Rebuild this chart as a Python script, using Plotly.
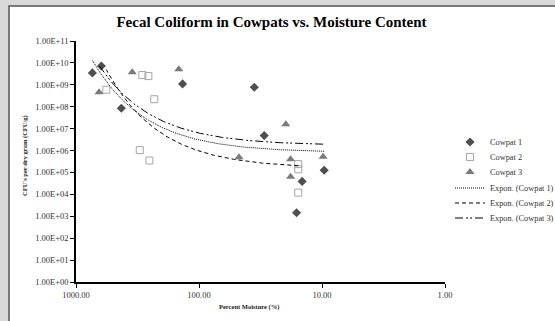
import numpy as np
import plotly.graph_objects as go

# ---- data ----
cow1_x = [736, 622, 428, 136, 35.5, 29.5, 9.6, 14.5, 16.1]
cow1_y = [3.5e9, 7.2e9, 8.5e7, 1.1e9, 7.7e8, 4.8e6, 1.26e5, 3.9e4, 1.45e3]

cow2_x = [567, 289, 258, 231, 303, 253, 15.6, 15.6, 15.6]
cow2_y = [6.0e8, 2.8e9, 2.5e9, 2.2e8, 1.05e6, 3.5e5, 2.4e5, 1.4e5, 1.2e4]

cow3_x = [650, 349, 146, 19.7, 47.3, 18.0, 9.8, 18.0]
cow3_y = [4.6e8, 3.7e9, 5.2e9, 1.6e7, 4.9e5, 4.0e5, 5.2e5, 6.3e4]

y_tickvals = [1e0, 1e1, 1e2, 1e3, 1e4, 1e5, 1e6, 1e7, 1e8, 1e9, 1e10, 1e11]
y_ticktext = ["1.00E+00", "1.00E+01", "1.00E+02", "1.00E+03", "1.00E+04", "1.00E+05",
              "1.00E+06", "1.00E+07", "1.00E+08", "1.00E+09", "1.00E+10", "1.00E+11"]
x_tickvals = [1000, 100, 10, 1]
x_ticktext = ["1000.00", "100.00", "10.00", "1.00"]

W, H = 555, 321
L, R, T, B = 76, 445, 41, 282  # plot area in pixels


def px(xp):
    return (xp - L) / (R - L)


def py(yp):
    return (B - yp) / (B - T)


def expfit(xs, ys):
    xs = np.asarray(xs, float)
    ys = np.asarray(ys, float)
    b, lna = np.polyfit(xs, np.log(ys), 1)
    xx = np.geomspace(xs.min(), xs.max(), 200)
    return xx, np.exp(lna) * np.exp(b * xx)


font = "Liberation Serif"
fig = go.Figure()

fig.add_trace(go.Scatter(x=cow1_x, y=cow1_y, mode="markers", name="Cowpat 1", legend="legend",
                         marker=dict(symbol="diamond", size=7, color="#4f4f4f")))
fig.add_trace(go.Scatter(x=cow2_x, y=cow2_y, mode="markers", name="Cowpat 2", legend="legend2",
                         marker=dict(symbol="square-open", size=7, color="#a6a6a6",
                                     line=dict(width=1, color="#a6a6a6"))))
fig.add_trace(go.Scatter(x=cow3_x, y=cow3_y, mode="markers", name="Cowpat 3", legend="legend3",
                         marker=dict(symbol="triangle-up", size=8, color="#7a7a7a")))

for xs, ys, nm, dash, lg in [(cow1_x, cow1_y, "Expon. (Cowpat 1)", "1px,1px", "legend4"),
                              (cow2_x, cow2_y, "Expon. (Cowpat 2)", "4px,3px", "legend5"),
                              (cow3_x, cow3_y, "Expon. (Cowpat 3)", "8px,3px,2px,2px,2px,3px", "legend6")]:
    fx, fy = expfit(xs, ys)
    fig.add_trace(go.Scatter(x=fx, y=fy, mode="lines", name=nm, legend=lg,
                             line=dict(color="black", width=1, dash=dash)))

leg_rows = [142, 157, 172, 188, 203, 218]
legends = {}
for i, yrow in enumerate(leg_rows):
    key = "legend" if i == 0 else f"legend{i + 1}"
    legends[key] = dict(x=px(450), y=py(yrow), xanchor="left", yanchor="middle",
                        bgcolor="rgba(0,0,0,0)", borderwidth=0,
                        font=dict(family=font, size=8.3, color="#333"))

fig.update_layout(
    width=W, height=H,
    margin=dict(l=L, r=W - R, t=T, b=H - B, pad=0, autoexpand=False),
    paper_bgcolor="#d9d9d9",
    plot_bgcolor="white",
    font=dict(family=font, size=8, color="#222"),
    title=dict(text="<b>Fecal Coliform in Cowpats vs. Moisture Content</b>",
               x=271.5 / W, xanchor="center", y=1 - 22 / H, yanchor="middle",
               font=dict(family=font, size=15, color="black")),
    showlegend=True,
    shapes=[dict(type="rect", xref="paper", yref="paper",
                 x0=px(9), x1=px(560), y0=py(326), y1=py(6),
                 fillcolor="white", line=dict(color="#555", width=1.5), layer="below")],
    annotations=[
        dict(text="<b>Percent Moisture (%)</b>", xref="paper", yref="paper",
             x=px(249), y=py(307), xanchor="center", yanchor="middle",
             showarrow=False, font=dict(family=font, size=6.5, color="#222")),
        dict(text="<b>CFU's per dry gram (CFU/g)</b>", xref="paper", yref="paper",
             x=px(25), y=py(156), xanchor="center", yanchor="middle", textangle=-90,
             showarrow=False, font=dict(family=font, size=6.5, color="#222")),
    ],
    **legends,
)

fig.update_xaxes(type="log", range=[3, 0], tickvals=x_tickvals, ticktext=x_ticktext,
                 showgrid=False, zeroline=False, showline=True, linecolor="black",
                 linewidth=1.5, ticks="outside", ticklen=4, tickcolor="black",
                 automargin=False,
                 tickfont=dict(family=font, size=8.5, color="#333"))
fig.update_yaxes(type="log", range=[0, 11], tickvals=y_tickvals, ticktext=y_ticktext,
                 showgrid=False, zeroline=False, showline=True, linecolor="black",
                 linewidth=1.5, ticks="outside", ticklen=4, tickcolor="black",
                 automargin=False,
                 tickfont=dict(family=font, size=8.5, color="#333"))

fig.write_html("out.html", config={"displayModeBar": False},
               post_script="document.body.style.margin='0';document.body.style.overflow='hidden';")
